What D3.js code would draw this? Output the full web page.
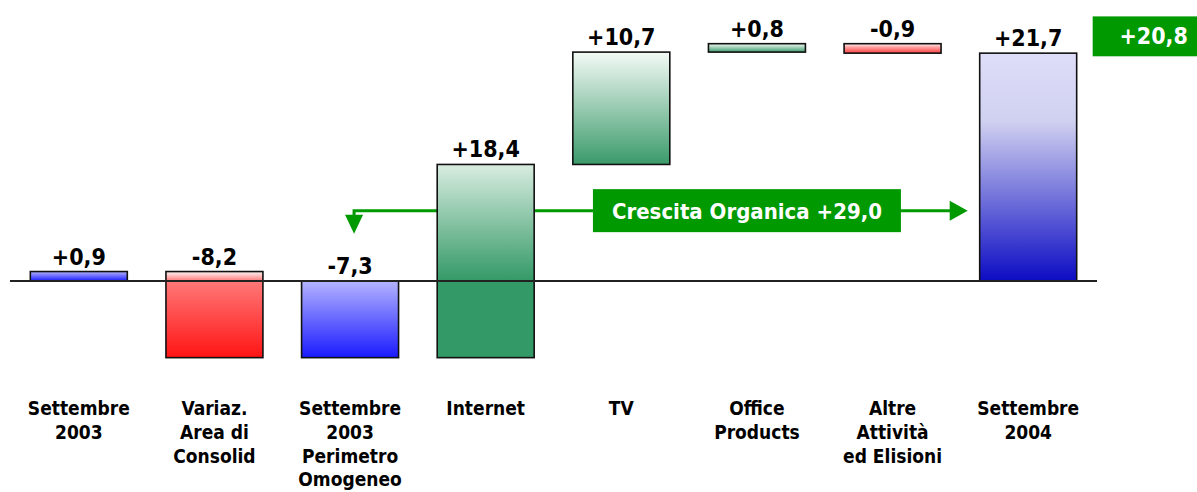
<!DOCTYPE html>
<html>
<head>
<meta charset="utf-8">
<script src="https://cdn.jsdelivr.net/npm/d3@7"></script>
<style>
  body { margin: 0; background: #fff; }
  text { font-family: "DejaVu Sans Condensed", "DejaVu Sans", Verdana, sans-serif; font-weight: bold; font-stretch: condensed; }
</style>
</head>
<body>
<div id="chart"></div>
<script>
// Waterfall: ricavi Settembre 2003 -> Settembre 2004
const categories = [
  ["Settembre", "2003"],
  ["Variaz.", "Area di", "Consolid"],
  ["Settembre", "2003", "Perimetro", "Omogeneo"],
  ["Internet"],
  ["TV"],
  ["Office", "Products"],
  ["Altre", "Attività", "ed Elisioni"],
  ["Settembre", "2004"]
];
const values = [0.9, -8.2, -7.3, 18.4, 10.7, 0.8, -0.9, 21.7];
const isTotal = [true, false, true, false, false, false, false, true];
const valueLabels = ["+0,9", "-8,2", "-7,3", "+18,4", "+10,7", "+0,8", "-0,9", "+21,7"];
const organicLabel = "Crescita Organica +29,0";
const organicLevel = 6.7;
const totalDeltaLabel = "+20,8";
const totalDeltaLevel = [25.2, 21.4];

(function(){
  const W = 1197, H = 492;
  const svg = d3.select('#chart').append('svg').attr('width', W).attr('height', H);
  const defs = svg.append('defs');

  // running totals
  let run = 0;
  const bars = values.map((v, i) => {
    let start, end;
    if (isTotal[i]) { start = 0; end = v; }
    else { start = run; end = run + v; }
    run = end;
    return {i, v, start, end, total: isTotal[i], lines: categories[i], label: valueLabels[i]};
  });

  const x = d3.scaleBand().domain(d3.range(categories.length))
    .range([11, 1096]).paddingInner(0.285).paddingOuter(0.1425);
  const y = d3.scaleLinear().domain([-20, 25]).range([491, 18.5]);
  const bw = x.bandwidth();
  const cx = i => x(i) + bw / 2;

  // gradients per bar
  bars.forEach(d => {
    const top = y(Math.max(d.start, d.end)), bot = y(Math.min(d.start, d.end));
    const h = bot - top;
    const zeroOff = Math.max(0, Math.min(1, (y(0) - top) / h));
    let stops;
    if (d.i === 7) stops = [[0, '#dedefa'], [0.3, '#d0d0f0'], [1, '#0c0cc4']];
    else if (d.total) stops = [[0, '#b4b4ff'], [1, '#1a1aff']];
    else if (d.v < 0) stops = zeroOff < 1
      ? [[0, '#fff4f4'], [zeroOff, '#ff7878'], [1, '#ff1414']]
      : [[0, '#fff0f0'], [0.4, '#ff9a9a'], [1, '#ff4040']];
    else stops = zeroOff < 1
      ? [[0, '#d8ece0'], [zeroOff, '#339966'], [1, '#339966']]
      : [[0, '#f4faf6'], [1, '#3a9a6a']];
    const g = defs.append('linearGradient').attr('id', 'grad' + d.i)
      .attr('x1', 0).attr('y1', 0).attr('x2', 0).attr('y2', 1);
    stops.forEach(s => g.append('stop').attr('offset', s[0]).attr('stop-color', s[1]));
  });

  const green = '#009900';

  // organic growth arrow (behind bars)
  const ay = y(organicLevel);
  const lx = cx(2) + 4;
  const rx = x(7) - 12;
  svg.append('path')
    .attr('d', `M${rx - 16},${ay}H${lx}V${ay + 6}`)
    .attr('fill', 'none').attr('stroke', green).attr('stroke-width', 3);
  svg.append('path')
    .attr('d', `M${lx - 9},${ay + 4}L${lx + 9},${ay + 4}L${lx},${ay + 23}Z`)
    .attr('fill', green);
  svg.append('path')
    .attr('d', `M${rx},${ay}L${rx - 18},${ay - 10}L${rx - 18},${ay + 10}Z`)
    .attr('fill', green);

  // bars
  svg.selectAll('rect.bar').data(bars).enter().append('rect')
    .attr('class', 'bar')
    .attr('x', d => x(d.i))
    .attr('y', d => y(Math.max(d.start, d.end)))
    .attr('width', bw)
    .attr('height', d => Math.abs(y(d.start) - y(d.end)))
    .attr('fill', d => `url(#grad${d.i})`)
    .attr('stroke', '#111').attr('stroke-width', 1.6);

  // baseline over bars
  svg.append('line').attr('x1', 10).attr('x2', 1097)
    .attr('y1', y(0)).attr('y2', y(0))
    .attr('stroke', '#222').attr('stroke-width', 2);

  // value labels
  svg.selectAll('text.val').data(bars).enter().append('text')
    .attr('class', 'val')
    .attr('x', d => cx(d.i))
    .attr('y', d => y(Math.max(d.start, d.end, 0)) - 7)
    .attr('text-anchor', 'middle').attr('font-size', 23).attr('fill', '#000')
    .text(d => d.label);

  // category labels
  const cat = svg.selectAll('text.cat').data(bars).enter().append('text')
    .attr('class', 'cat')
    .attr('text-anchor', 'middle').attr('font-size', 19).attr('fill', '#000');
  cat.selectAll('tspan').data(d => d.lines.map(l => ({l, c: cx(d.i)}))).enter()
    .append('tspan')
    .attr('x', t => t.c)
    .attr('y', (t, j) => 415 + j * 23.8)
    .text(t => t.l);

  // organic box
  const boxW = 308, boxH = 43;
  const boxCx = (x(3) + bw + x(7)) / 2 - 10;
  svg.append('rect').attr('x', boxCx - boxW / 2).attr('y', ay - boxH / 2)
    .attr('width', boxW).attr('height', boxH).attr('fill', green);
  svg.append('text').attr('x', boxCx).attr('y', ay + 8)
    .attr('text-anchor', 'middle').attr('font-size', 22).attr('fill', '#fff')
    .text(organicLabel);

  // total delta box
  const bx = x(7) + bw + 16;
  const by0 = y(totalDeltaLevel[0]), by1 = y(totalDeltaLevel[1]);
  svg.append('rect').attr('x', bx).attr('y', by0)
    .attr('width', W - bx + 5).attr('height', by1 - by0).attr('fill', green);
  svg.append('text').attr('x', bx + 61).attr('y', (by0 + by1) / 2 + 8)
    .attr('text-anchor', 'middle').attr('font-size', 23).attr('fill', '#fff')
    .text(totalDeltaLabel);
})();
</script>
</body>
</html>
